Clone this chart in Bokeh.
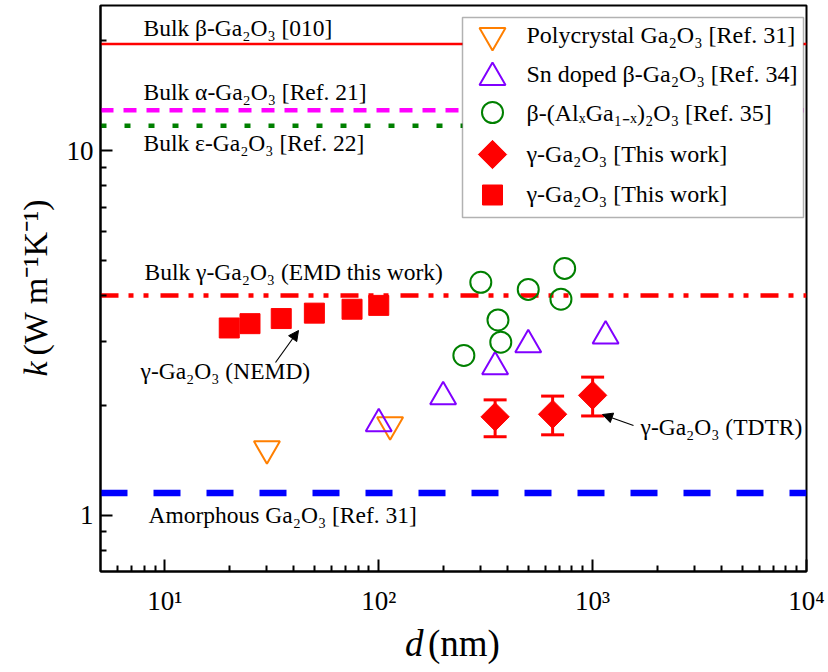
import math
from bokeh.plotting import figure
from bokeh.layouts import row, column
from bokeh.models import (Span, Label, FixedTicker, Whisker, TeeHead, Arrow, NormalHead,
                          ColumnDataSource, Range1d, BoxAnnotation)
from bokeh.embed import file_html
from bokeh.resources import INLINE

FONT = "Liberation Serif"

# ---------------- data ----------------
poly_d = [30, 113]
poly_k = [1.52, 1.77]

sn_d = [100, 200, 350, 500, 1150]
sn_k = [1.78, 2.11, 2.55, 2.93, 3.10]

al_d = [250, 300, 361, 372, 500, 711, 740]
al_k = [2.74, 4.35, 3.43, 2.98, 4.16, 3.91, 4.75]

tdtr_d = [350, 650, 1000]
tdtr_k = [1.86, 1.89, 2.13]
tdtr_lo = [1.64, 1.66, 1.87]
tdtr_hi = [2.07, 2.12, 2.39]

nemd_d = [20, 25, 35, 50, 75, 100]
nemd_k = [3.26, 3.35, 3.46, 3.58, 3.67, 3.76]

k_beta_010 = 19.6
k_alpha = 12.9
k_eps = 11.7
k_gamma_emd = 4.0
k_amorph = 1.15

legend_labels = [
    "Polycrystal Ga\u2082O\u2083 [Ref. 31]",
    "Sn doped \u03b2-Ga\u2082O\u2083 [Ref. 34]",
    "\u03b2-(Al\u2093Ga\u2081\u208b\u2093)\u2082O\u2083 [Ref. 35]",
    "\u03b3-Ga\u2082O\u2083 [This work]",
    "\u03b3-Ga\u2082O\u2083 [This work]",
]

x_major = [10, 100, 1000, 10000]
x_major_labels = ["10\u00b9", "10\u00b2", "10\u00b3", "10\u2074"]
y_major = [1, 10]
y_major_labels = ["1", "10"]

X0, X1 = 5, 1e4
Y0, Y1 = 0.7, 25

# ---------------- geometry helpers (canvas px -> data) ----------------
FL, FR, FT, FB = 100, 806, 5, 571
PXDX = (FR - FL) / math.log10(X1 / X0)
PXDY = (FB - FT) / math.log10(Y1 / Y0)
BASE_SHIFT = 0.34  # label anchor sits this many em above the visual baseline


def xd(px):
    return 10 ** (math.log10(X0) + (px - FL) / PXDX)


def yd(py):
    return 10 ** (math.log10(Y0) + (FB - py) / PXDY)


W, H = 828, 672
LEFT_W = 56
MAIN_W = W - LEFT_W
MAIN_H = 622

# ---------------- main figure ----------------
p = figure(width=MAIN_W, height=MAIN_H, x_axis_type="log", y_axis_type="log",
           x_range=Range1d(X0, X1), y_range=Range1d(Y0, Y1), title=None,
           output_backend="svg", toolbar_location=None,
           min_border_left=FL - LEFT_W, min_border_right=W - FR,
           min_border_top=FT, min_border_bottom=MAIN_H - FB)
p.grid.visible = False
p.outline_line_color = "black"
p.outline_line_width = 2
p.background_fill_color = "white"

x_minor = [m * 10 ** e for e in range(0, 4) for m in range(2, 10) if X0 < m * 10 ** e < X1]
p.xaxis.ticker = FixedTicker(ticks=x_major, minor_ticks=x_minor)
p.xaxis.major_label_overrides = {t: l for t, l in zip(x_major, x_major_labels)}
p.yaxis.ticker = FixedTicker(ticks=y_major, minor_ticks=[0.8, 0.9, 2, 3, 4, 5, 6, 7, 8, 9, 20])
p.yaxis.major_label_overrides = {t: l for t, l in zip(y_major, y_major_labels)}

for ax in (p.xaxis[0], p.yaxis[0]):
    ax.axis_line_width = 2
    ax.major_tick_in = 12
    ax.major_tick_out = 0
    ax.minor_tick_in = 6
    ax.minor_tick_out = 0
    ax.major_tick_line_width = 2
    ax.minor_tick_line_width = 2
    ax.major_label_text_font = FONT
    ax.major_label_text_font_size = "27px"
    ax.major_label_text_color = "black"
p.xaxis.major_label_standoff = 14
p.yaxis.major_label_standoff = 7

# ---------------- horizontal reference lines ----------------
p.add_layout(Span(location=k_beta_010, dimension="width", line_color="#FF0000",
                  line_width=2.5, level="underlay"))
p.add_layout(Span(location=k_alpha, dimension="width", line_color="#FF00FF",
                  line_width=4.5, line_dash="13 10", level="underlay"))
p.add_layout(Span(location=k_eps, dimension="width", line_color="#008000",
                  line_width=4.5, line_dash="6 18", level="underlay"))
p.add_layout(Span(location=k_gamma_emd, dimension="width", line_color="#FF0000",
                  line_width=4.5, line_dash="18 10 5 10 5 12", level="underlay"))
p.add_layout(Span(location=k_amorph, dimension="width", line_color="#0000FF",
                  line_width=6.5, line_dash="27 26", level="underlay"))

# legend box (drawn over the reference lines, under the markers)
p.add_layout(BoxAnnotation(left=xd(462), right=xd(803), top=yd(17), bottom=yd(217),
                           fill_color="white", fill_alpha=1.0, line_color="black",
                           line_width=1.5, level="underlay"))

# ---------------- markers ----------------
STY = {
    "poly": dict(marker="inverted_triangle", size=26, fill_color=None,
                 line_color="#FF7F00", line_width=2),
    "sn": dict(marker="triangle", size=26, fill_color=None,
               line_color="#8000FF", line_width=2),
    "al": dict(marker="circle", size=21, fill_color=None,
               line_color="#008000", line_width=2),
    "tdtr": dict(marker="square", angle=math.pi / 4, size=20,
                 fill_color="#FF0000", line_color="#FF0000", line_width=1),
    "nemd": dict(marker="square", size=20, fill_color="#FF0000",
                 line_color="#FF0000", line_width=1),
}

p.scatter(poly_d, poly_k, **STY["poly"])
p.scatter(sn_d, sn_k, **STY["sn"])
p.scatter(al_d, al_k, **STY["al"])
src = ColumnDataSource(dict(x=tdtr_d, lo=tdtr_lo, hi=tdtr_hi))
p.add_layout(Whisker(source=src, base="x", lower="lo", upper="hi", dimension="height",
                     line_color="#FF0000", line_width=3,
                     upper_head=TeeHead(size=23, line_color="#FF0000", line_width=3),
                     lower_head=TeeHead(size=23, line_color="#FF0000", line_width=3)))
p.scatter(tdtr_d, tdtr_k, **STY["tdtr"])
p.scatter(nemd_d, nemd_k, **STY["nemd"])


def note(px, py_base, text, fs):
    p.add_layout(Label(x=xd(px), y=yd(py_base - BASE_SHIFT * fs), text=text, text_font=FONT,
                       text_font_size=f"{fs}px", text_baseline="alphabetic",
                       text_align="left", text_color="black"))


# ---------------- legend (manual) ----------------
leg_marker_y = [35, 77, 112, 154, 194.5]
leg_text_y = [43, 82, 121, 162, 202]
for key, my, ty, lab in zip(["poly", "sn", "al", "tdtr", "nemd"], leg_marker_y,
                            leg_text_y, legend_labels):
    p.scatter([xd(492)], [yd(my)], **STY[key])
    note(526, ty, lab, 24)

# ---------------- text annotations ----------------
notes = [
    (143, 35, "Bulk \u03b2-Ga\u2082O\u2083 [010]"),
    (143, 99, "Bulk \u03b1-Ga\u2082O\u2083 [Ref. 21]"),
    (143, 150, "Bulk \u03b5-Ga\u2082O\u2083 [Ref. 22]"),
    (144, 279, "Bulk \u03b3-Ga\u2082O\u2083 (EMD this work)"),
    (140, 378, "\u03b3-Ga\u2082O\u2083 (NEMD)"),
    (640, 434, "\u03b3-Ga\u2082O\u2083 (TDTR)"),
    (148, 522, "Amorphous Ga\u2082O\u2083 [Ref. 31]"),
]
for px, py, t in notes:
    note(px, py, t, 23.5)

p.add_layout(Arrow(x_start=xd(275), y_start=yd(362), x_end=xd(298), y_end=yd(330),
                   line_color="black", line_width=1.2,
                   end=NormalHead(size=10, fill_color="black", line_color="black")))
p.add_layout(Arrow(x_start=xd(633), y_start=yd(425), x_end=xd(602), y_end=yd(414),
                   line_color="black", line_width=1.2,
                   end=NormalHead(size=10, fill_color="black", line_color="black")))


# ---------------- axis titles (separate text panels, canvas-pixel coordinates) ----------------
def text_panel(w, h, x0, y0):
    # data x = canvas x ; data y = H - canvas y
    f = figure(width=w, height=h, title=None,
               x_range=Range1d(x0, x0 + w), y_range=Range1d(H - (y0 + h), H - y0),
               output_backend="svg", toolbar_location=None,
               x_axis_location=None, y_axis_location=None,
               min_border=0, min_border_left=0, min_border_right=0,
               min_border_top=0, min_border_bottom=0)
    f.grid.visible = False
    f.outline_line_color = None
    f.background_fill_color = "white"
    return f


def title_label(fig, x, y, text, fs, italic=False, angle=0.0):
    fig.add_layout(Label(x=x, y=H - y, text=text, angle=angle, text_font=FONT,
                         text_font_size=f"{fs}px",
                         text_font_style="italic" if italic else "normal",
                         text_baseline="alphabetic", text_align="left",
                         text_color="black"))


YFS, XFS = 34, 37
ylab = text_panel(LEFT_W, H, 0, 0)
title_label(ylab, 47 - BASE_SHIFT * YFS, 376, "k", YFS, italic=True, angle=math.pi / 2)
title_label(ylab, 47 - BASE_SHIFT * YFS, 355, "(W m\u207b\u00b9K\u207b\u00b9)", YFS,
            angle=math.pi / 2)

xlab = text_panel(MAIN_W, H - MAIN_H, LEFT_W, MAIN_H)
title_label(xlab, 389, 656 - BASE_SHIFT * XFS, "d", XFS, italic=True)
title_label(xlab, 414, 656 - BASE_SHIFT * XFS, "(nm)", XFS)

layout = row(ylab, column(p, xlab, spacing=0), spacing=0)
open("out.html", "w").write(file_html(layout, INLINE))
